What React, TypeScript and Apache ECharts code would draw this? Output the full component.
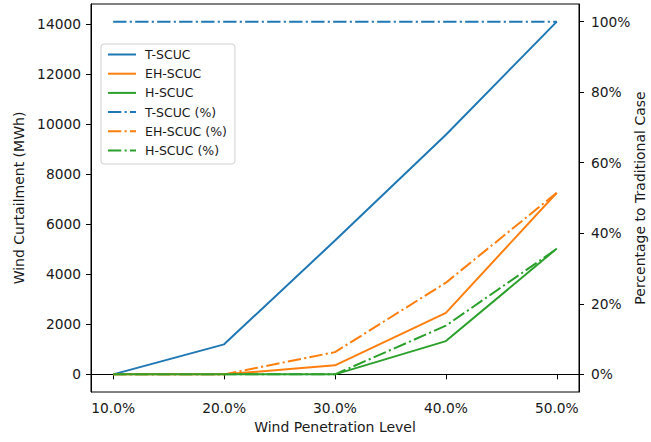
import React, { useEffect, useRef } from "react";
import * as echarts from "echarts";

// Wind penetration levels (%) on the x axis
const levels = [10, 20, 30, 40, 50];

// Wind curtailment (MWh) per scheduling model
const tScuc = [0, 1200, 5350, 9580, 14100];
const ehScuc = [0, 0, 360, 2460, 7260];
const hScuc = [0, 0, 0, 1330, 5030];

// Curtailment relative to the traditional case (%)
const tScucPct = [100, 100, 100, 100, 100];
const ehScucPct = [0, 0, 6.3, 26.0, 51.5];
const hScucPct = [0, 0, 0, 13.8, 35.6];

// Tick positions
const curtailmentTicks = [0, 2000, 4000, 6000, 8000, 10000, 12000, 14000];
const percentTicks = [0, 20, 40, 60, 80, 100];

const BLUE = "#1f77b4";
const ORANGE = "#ff7f0e";
const GREEN = "#2ca02c";
const FONT = "DejaVu Sans";
const TEXT = "#1a1a1a";
const DASH_DOT = [13.3, 3.3, 2.1, 3.3];

const pairs = (vals: number[]) => levels.map((x, i) => [x, vals[i]]);

const lineSeries = (
  name: string,
  vals: number[],
  color: string,
  yAxisIndex: number,
  dashed: boolean
) => ({
  name,
  type: "line",
  yAxisIndex,
  data: pairs(vals),
  symbol: "none",
  showSymbol: false,
  color,
  lineStyle: {
    color,
    width: 2,
    type: dashed ? DASH_DOT : "solid",
    cap: "butt",
  },
  emphasis: { disabled: true },
  silent: true,
});

export default function App() {
  const ref = useRef<HTMLDivElement>(null);

  useEffect(() => {
    if (!ref.current) return;
    const chart = echarts.init(ref.current, undefined, { renderer: "svg" });

    const tickLabel = {
      color: TEXT,
      fontFamily: FONT,
      fontSize: 13.8,
    };

    chart.setOption({
      animation: false,
      backgroundColor: "#ffffff",
      grid: {
        left: 91,
        right: 72,
        top: 4,
        bottom: 50,
        show: true,
        borderColor: "#000000",
        borderWidth: 1,
        backgroundColor: "transparent",
      },
      legend: {
        orient: "vertical",
        left: 101,
        top: 44,
        itemWidth: 28,
        itemHeight: 14,
        itemGap: 6.2,
        padding: [4, 8, 7, 6],
        backgroundColor: "rgba(255,255,255,0.8)",
        borderColor: "#d0d0d0",
        borderWidth: 1,
        borderRadius: 3,
        selectedMode: false,
        itemStyle: {
          color: "rgba(0,0,0,0)",
          borderColor: "rgba(0,0,0,0)",
          borderWidth: 0,
        },
        textStyle: {
          color: TEXT,
          fontFamily: FONT,
          fontSize: 12.5,
          padding: [0, 0, 0, 4],
        },
        data: [
          "T-SCUC",
          "EH-SCUC",
          "H-SCUC",
          "T-SCUC (%)",
          "EH-SCUC (%)",
          "H-SCUC (%)",
        ],
      },
      // Title of the right-hand (percentage) axis
      graphic: [
        {
          type: "text",
          x: 640,
          y: 198,
          rotation: Math.PI / 2,
          silent: true,
          style: {
            text: "Percentage to Traditional Case",
            fill: TEXT,
            fontFamily: FONT,
            fontSize: 14,
            align: "center",
            verticalAlign: "middle",
          },
        },
      ],
      xAxis: {
        type: "value",
        min: 8,
        max: 52,
        name: "Wind Penetration Level",
        nameLocation: "middle",
        nameGap: 28,
        nameTextStyle: { color: TEXT, fontFamily: FONT, fontSize: 14 },
        axisLine: { show: true, lineStyle: { color: "#000", width: 1 } },
        axisTick: {
          show: true,
          length: 5,
          customValues: levels,
          lineStyle: { color: "#000", width: 1 },
        },
        axisLabel: {
          ...tickLabel,
          margin: 9,
          customValues: levels,
          formatter: (v: number) => `${v.toFixed(1)}%`,
        },
        splitLine: { show: false },
      },
      yAxis: [
        {
          type: "value",
          min: -705,
          max: 14805,
          name: "Wind Curtailment (MWh)",
          nameLocation: "middle",
          nameGap: 63,
          nameRotate: 90,
          nameTextStyle: { color: TEXT, fontFamily: FONT, fontSize: 14 },
          axisLine: { show: true, lineStyle: { color: "#000", width: 1 } },
          axisTick: {
            show: true,
            length: 5,
            customValues: curtailmentTicks,
            lineStyle: { color: "#000", width: 1 },
          },
          axisLabel: {
            ...tickLabel,
            margin: 10,
            customValues: curtailmentTicks,
            formatter: (v: number) => `${v}`,
          },
          splitLine: { show: false },
        },
        {
          type: "value",
          min: -5,
          max: 105,
          position: "right",
          axisLine: { show: true, lineStyle: { color: "#000", width: 1 } },
          axisTick: {
            show: true,
            length: 5,
            customValues: percentTicks,
            lineStyle: { color: "#000", width: 1 },
          },
          axisLabel: {
            ...tickLabel,
            margin: 12,
            customValues: percentTicks,
            formatter: (v: number) => `${v}%`,
          },
          splitLine: { show: false },
        },
      ],
      series: [
        lineSeries("T-SCUC", tScuc, BLUE, 0, false),
        lineSeries("EH-SCUC", ehScuc, ORANGE, 0, false),
        lineSeries("H-SCUC", hScuc, GREEN, 0, false),
        lineSeries("T-SCUC (%)", tScucPct, BLUE, 1, true),
        lineSeries("EH-SCUC (%)", ehScucPct, ORANGE, 1, true),
        lineSeries("H-SCUC (%)", hScucPct, GREEN, 1, true),
      ],
    });

    return () => chart.dispose();
  }, []);

  return (
    <div
      ref={ref}
      style={{
        position: "fixed",
        left: 0,
        top: 0,
        width: 651,
        height: 442,
        background: "#ffffff",
      }}
    />
  );
}
